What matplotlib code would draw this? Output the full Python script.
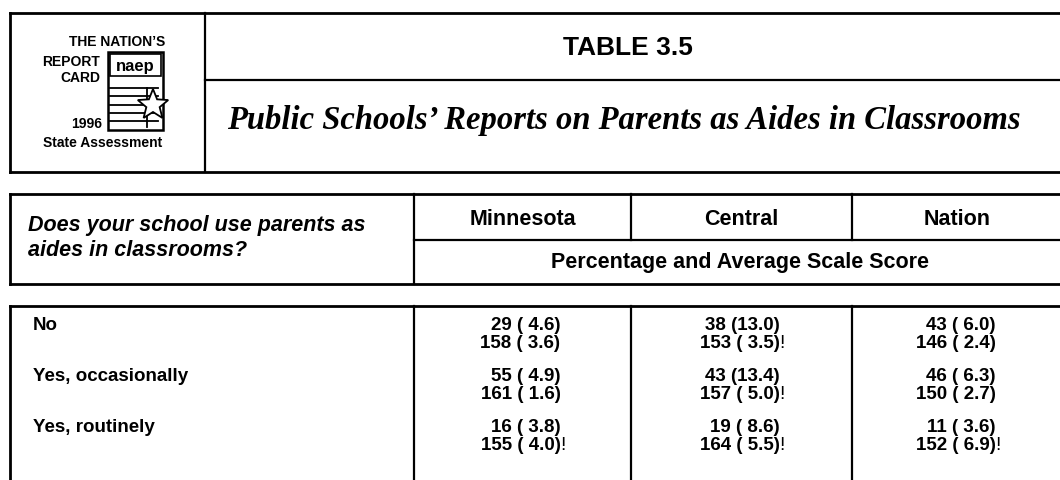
import numpy as np
import matplotlib
matplotlib.use("Agg")
import matplotlib.pyplot as plt
from matplotlib.patches import Polygon, Rectangle

# ---- table content
states = ["Minnesota", "Central", "Nation"]
responses = ["No", "Yes, occasionally", "Yes, routinely"]
pct = [[29, 38, 43], [55, 43, 46], [16, 19, 11]]
pct_se = [[4.6, 13.0, 6.0], [4.9, 13.4, 6.3], [3.8, 8.6, 3.6]]
score = [[158, 153, 146], [161, 157, 150], [155, 164, 152]]
score_se = [[3.6, 3.5, 2.4], [1.6, 5.0, 2.7], [4.0, 5.5, 6.9]]
flag = [[False, True, False], [False, True, False], [True, True, True]]

title = "TABLE 3.5"
subtitle = "Public Schools\u2019 Reports on Parents as Aides in Classrooms"
question = ["Does your school use parents as", "aides in classrooms?"]
subhead = "Percentage and Average Scale Score"

W, H = 1060, 481
SANS = "Liberation Sans"
SERIF = "Liberation Serif"
LW = 1.6

fig = plt.figure(figsize=(W / 100, H / 100), dpi=100)
ax = fig.add_axes([0, 0, 1, 1])
ax.set_xlim(0, W)
ax.set_ylim(H, 0)
ax.axis("off")

def line(x0, y0, x1, y1, lw=LW):
    ax.plot([x0, x1], [y0, y1], color="black", lw=lw, solid_capstyle="projecting")

R = 1063  # right border sits just off the page

# ---- title box
line(10, 14, R, 14, 2.0)
line(10, 173, R, 173, 2.0)
line(10, 14, 10, 173, 2.0)
line(205, 14, 205, 173)
line(205, 81, R, 81)
ax.text(628, 48, title, ha="center", va="center", fontsize=19, fontweight="bold", family=SANS)
ax.text(624, 121, subtitle, ha="center", va="center", fontsize=23.5, fontweight="bold",
        style="italic", family=SERIF)

# ---- logo
logo_kw = dict(va="center", fontsize=10, fontweight="bold", family=SANS)
ax.text(165, 42, "THE NATION\u2019S", ha="right", **logo_kw)
ax.text(100, 62, "REPORT", ha="right", **logo_kw)
ax.text(100, 78, "CARD", ha="right", **logo_kw)
ax.text(102, 124, "1996", ha="right", **logo_kw)
ax.text(103, 143, "State Assessment", ha="center", **logo_kw)
ax.add_patch(Rectangle((108, 53), 55, 78, fill=False, lw=1.8, ec="black"))
ax.add_patch(Rectangle((110, 55), 51, 22, fill=False, lw=1.2, ec="black"))
ax.text(135, 67, "naep", ha="center", va="center", fontsize=12, fontweight="bold", family=SANS)
for yy in [89, 97, 106, 114, 122]:
    line(110, yy, 158, yy, 1.3)
line(147, 89, 147, 128, 1.3)
ang = np.linspace(np.pi / 2, np.pi / 2 + 2 * np.pi, 11)[:-1]
rad = np.where(np.arange(10) % 2 == 0, 16, 7)
star = np.column_stack([153 + rad * np.cos(ang), 106 - rad * np.sin(ang)])
ax.add_patch(Polygon(star, closed=True, fc="white", ec="black", lw=1.3, zorder=3))

# ---- header box
cols = [414, 631, 852, R]
line(10, 195, R, 195, 2.0)
line(10, 285, R, 285, 2.0)
line(10, 195, 10, 285, 2.0)
line(414, 195, 414, 285)
line(414, 241, R, 241)
for x in cols[1:3]:
    line(x, 195, x, 241)
ax.text(28, 226, question[0], ha="left", va="center", fontsize=15.5, fontweight="bold",
        style="italic", family=SANS)
ax.text(28, 251, question[1], ha="left", va="center", fontsize=15.5, fontweight="bold",
        style="italic", family=SANS)
for i, s in enumerate(states):
    ax.text((cols[i] + cols[i + 1]) / 2, 220, s, ha="center", va="center", fontsize=15.5,
            fontweight="bold", family=SANS)
ax.text(740, 263, subhead, ha="center", va="center", fontsize=15.5, fontweight="bold", family=SANS)

# ---- data box
line(10, 307, R, 307, 2.0)
line(10, 307, 10, H + 5, 2.0)
for x in cols[:3]:
    line(x, 307, x, H + 5)

row_y = [326, 377, 428]
for r, lab in enumerate(responses):
    y = row_y[r]
    ax.text(33, y, lab, ha="left", va="center", fontsize=13.5, fontweight="bold", family=SANS)
    for c in range(3):
        xr = (cols[c] + cols[c + 1]) / 2 + 38
        ax.text(xr, y, f"{pct[r][c]} ({pct_se[r][c]:4.1f})", ha="right", va="center",
                fontsize=13.5, fontweight="bold", family=SANS)
        ax.text(xr, y + 18, f"{score[r][c]} ({score_se[r][c]:4.1f})", ha="right", va="center",
                fontsize=13.5, fontweight="bold", family=SANS)
        if flag[r][c]:
            ax.text(xr, y + 18, "!", ha="left", va="center", fontsize=13.5, family=SANS)

fig.savefig("out.png", dpi=100, facecolor="white")
